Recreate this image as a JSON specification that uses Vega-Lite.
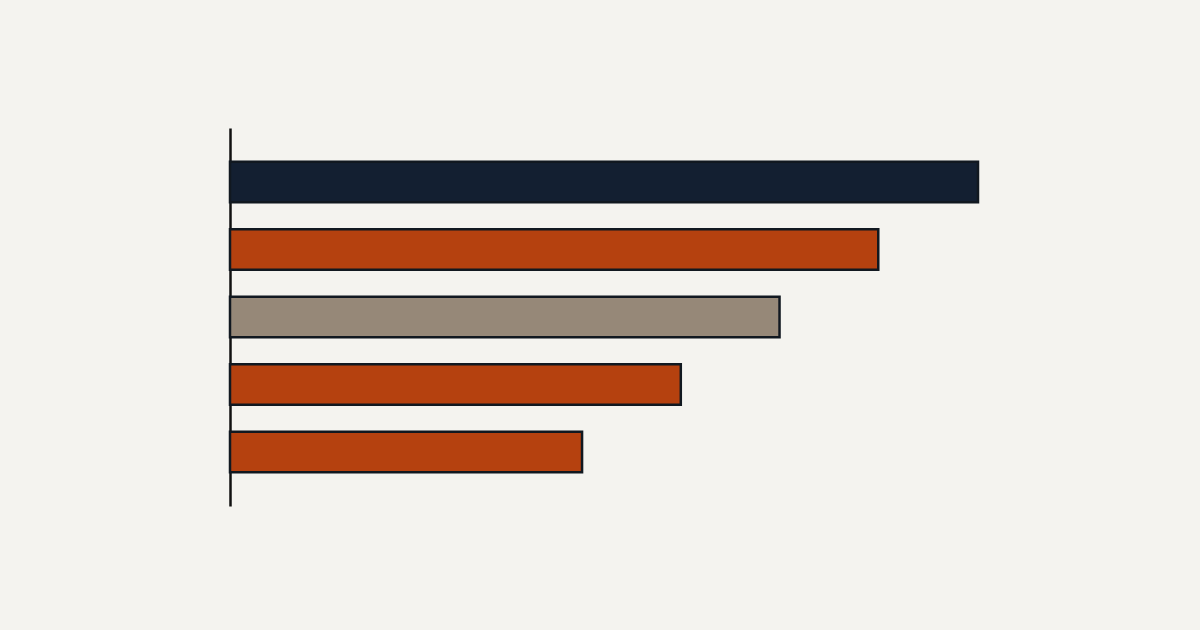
{
  "$schema": "https://vega.github.io/schema/vega-lite/v6.json",
  "autosize": "none",
  "width": 748,
  "height": 378,
  "padding": {"left": 230, "top": 128, "right": 222, "bottom": 124},
  "background": "#f4f3ef",
  "config": {
    "view": {"stroke": null}
  },
  "data": {
    "values": [
      {"item": "A", "value": 7.5, "group": "lead"},
      {"item": "B", "value": 6.5, "group": "accent"},
      {"item": "C", "value": 5.51, "group": "neutral"},
      {"item": "D", "value": 4.52, "group": "accent"},
      {"item": "E", "value": 3.53, "group": "accent"}
    ]
  },
  "mark": {"type": "bar", "stroke": "#111820", "strokeWidth": 2.5},
  "encoding": {
    "y": {
      "field": "item",
      "type": "nominal",
      "sort": null,
      "scale": {"paddingInner": 0.4, "paddingOuter": 0.5},
      "axis": {
        "title": null,
        "labels": false,
        "ticks": false,
        "domainColor": "#111111",
        "domainWidth": 2.5
      }
    },
    "x": {
      "field": "value",
      "type": "quantitative",
      "scale": {"domain": [0, 7.5], "nice": false},
      "axis": null
    },
    "color": {
      "field": "group",
      "type": "nominal",
      "legend": null,
      "scale": {
        "domain": ["lead", "accent", "neutral"],
        "range": ["#131f31", "#b5410f", "#968878"]
      }
    }
  }
}
